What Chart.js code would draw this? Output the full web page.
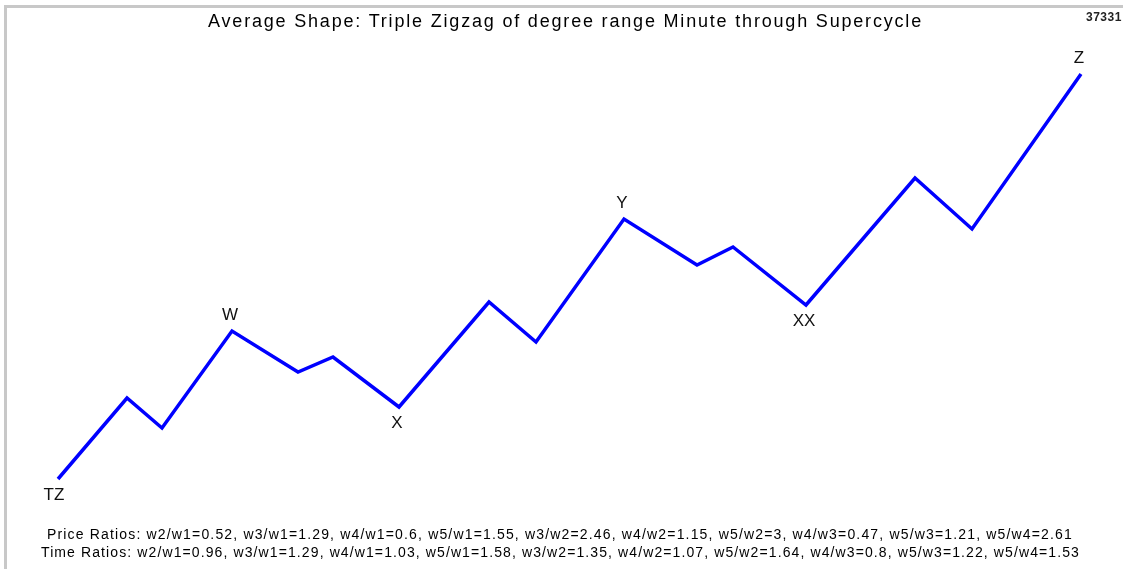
<!DOCTYPE html>
<html>
<head>
<meta charset="utf-8">
<script src="https://cdn.jsdelivr.net/npm/chart.js@4"></script>
<style>
  html, body { margin: 0; padding: 0; background: #fff; }
  #wrap { position: relative; width: 1123px; height: 569px; overflow: hidden; background: #fff; }
  #frame { position: absolute; left: 4px; top: 5px; width: 1130px; height: 561px;
           border-left: 3px solid #c8c8c8; border-top: 3px solid #c8c8c8; border-bottom: 1px solid #e4e4e4; }
  #chart { position: absolute; left: 0; top: 0; }
  .txt { position: absolute; white-space: nowrap; font-family: "Liberation Sans", Arial, sans-serif; color: #000; }
  #title { font-size: 18px; top: 11px; }
  #num { font-size: 12px; font-weight: bold; left: 1086px; top: 10px; color: #222; letter-spacing: 0.5px; }
  .ratio { font-size: 14px; }
  #price { top: 526px; }
  #time { top: 544px; }
</style>
</head>
<body>
<div id="wrap">
  <div id="frame"></div>
  <canvas id="chart" width="1123" height="569"></canvas>
  <div class="txt" id="title">Average Shape: Triple Zigzag of degree range Minute through Supercycle</div>
  <div class="txt" id="num">37331</div>
  <div class="txt ratio" id="price">Price Ratios: w2/w1=0.52, w3/w1=1.29, w4/w1=0.6, w5/w1=1.55, w3/w2=2.46, w4/w2=1.15, w5/w2=3, w4/w3=0.47, w5/w3=1.21, w5/w4=2.61</div>
  <div class="txt ratio" id="time">Time Ratios: w2/w1=0.96, w3/w1=1.29, w4/w1=1.03, w5/w1=1.58, w3/w2=1.35, w4/w2=1.07, w5/w2=1.64, w4/w3=0.8, w5/w3=1.22, w5/w4=1.53</div>
</div>
<script>
// wave path (time in bars, price in arbitrary units from the start point)
const times  = [0, 69, 104, 174, 240, 275, 341, 431, 478, 566, 639, 675, 748, 857, 914, 1023];
const prices = [0, 81, 51, 148, 107, 122, 72, 177, 137, 260, 214, 232, 174, 301, 250, 405];
const waveLabels = ['TZ', '', '', 'W', '', '', 'X', '', '', 'Y', '', '', 'XX', '', '', 'Z'];
const labelAbove = [false, false, false, true, false, false, false, false, false, true, false, false, false, false, false, true];

// stretch the html texts to the widths of the original bitmap font
function fitText(id, left, width) {
  const el = document.getElementById(id);
  const n = el.textContent.length;
  const w = el.getBoundingClientRect().width;
  el.style.letterSpacing = ((width - w) / n) + 'px';
  el.style.left = left + 'px';
}
fitText('title', 208, 715);
fitText('price', 47, 1026);
fitText('time', 41, 1039);

const waveLabelPlugin = {
  id: 'waveLabels',
  afterDatasetsDraw(chart) {
    const ctx = chart.ctx;
    const meta = chart.getDatasetMeta(0);
    ctx.save();
    ctx.font = '17px "Liberation Sans", Arial, sans-serif';
    ctx.fillStyle = '#111';
    ctx.textAlign = 'center';
    ctx.textBaseline = 'middle';
    meta.data.forEach((pt, i) => {
      if (!waveLabels[i]) return;
      const dy = labelAbove[i] ? -16 : 16;
      const dx = i === 0 ? -4 : -2;
      ctx.fillText(waveLabels[i], pt.x + dx, pt.y + dy);
    });
    ctx.restore();
  }
};

new Chart(document.getElementById('chart'), {
  type: 'line',
  data: {
    datasets: [{
      data: times.map((t, i) => ({ x: t, y: prices[i] })),
      borderColor: '#0000ff',
      borderWidth: 3.5,
      pointRadius: 0,
      tension: 0,
      fill: false
    }]
  },
  options: {
    responsive: false,
    animation: false,
    layout: { padding: 0 },
    plugins: { legend: { display: false }, tooltip: { enabled: false } },
    scales: {
      x: { type: 'linear', display: false, min: -58, max: 1065 },
      y: { type: 'linear', display: false, min: -90, max: 479 }
    }
  },
  plugins: [waveLabelPlugin]
});
</script>
</body>
</html>
